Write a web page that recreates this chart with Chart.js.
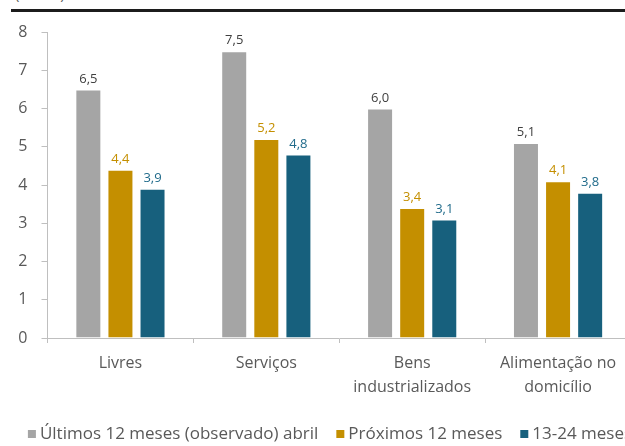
<!DOCTYPE html>
<html>
<head>
<meta charset="utf-8">
<script src="https://cdn.jsdelivr.net/npm/chart.js@4/dist/chart.umd.min.js"></script>
<style>
    body { margin: 0; overflow: hidden; background: #fff; font-family: "Open Sans", sans-serif; }
    #wrap { position: relative; width: 660px; height: 446px; }
    #unit { position: absolute; left: 15px; top: -17px; font-size: 15px; color: #595959; }
    #rule { position: absolute; left: 11px; top: 9px; width: 660px; height: 3px; background: #1c1c1c; }
    canvas { position: absolute; left: 0; top: 0; }
</style>
</head>
<body>
<div id="wrap">
    <div id="unit">(% a.a.)</div>
    <div id="rule"></div>
    <canvas id="chart" width="660" height="446"></canvas>
</div>
<script>
// categorias e séries
const categorias = ['Livres', 'Serviços', ['Bens', 'industrializados'], ['Alimentação no', 'domicílio']];
const ultimos12 = [6.5, 7.5, 6.0, 5.1];
const proximos12 = [4.4, 5.2, 3.4, 4.1];
const meses13a24 = [3.9, 4.8, 3.1, 3.8];
const yTicks = [0, 1, 2, 3, 4, 5, 6, 7, 8];

const fonte = '"Open Sans", sans-serif';
const textColor = '#595959';
const axisColor = '#bfbfbf';

// escreve o valor em cima de cada barra
const valueLabels = {
    id: 'valueLabels',
    afterDatasetsDraw(chart) {
        const ctx = chart.ctx;
        ctx.save();
        ctx.font = '13px ' + fonte;
        ctx.textAlign = 'center';
        ctx.textBaseline = 'bottom';
        chart.data.datasets.forEach((ds, i) => {
            const meta = chart.getDatasetMeta(i);
            ctx.fillStyle = ds.labelColor;
            meta.data.forEach((bar, j) => {
                const txt = ds.data[j].toFixed(1).replace('.', ',');
                ctx.fillText(txt, bar.x, bar.y - 4);
            });
        });
        ctx.restore();
    }
};

// legenda numa linha só, centrada embaixo (a nativa quebra em duas)
const oneLineLegend = {
    id: 'oneLineLegend',
    afterDraw(chart) {
        const ctx = chart.ctx;
        const box = 8, gap = 4, spacing = 18, y = 434;
        ctx.save();
        ctx.font = '17px ' + fonte;
        ctx.textBaseline = 'middle';
        const items = chart.data.datasets.map(ds => ({
            text: ds.label,
            color: ds.backgroundColor,
            w: box + gap + ctx.measureText(ds.label).width
        }));
        const total = items.reduce((s, it) => s + it.w, 0) + spacing * (items.length - 1);
        let x = chart.width / 2 - total / 2;
        items.forEach(it => {
            ctx.fillStyle = it.color;
            ctx.fillRect(x, y - box / 2, box, box);
            ctx.fillStyle = textColor;
            ctx.fillText(it.text, x + box + gap, y);
            x += it.w + spacing;
        });
        ctx.restore();
    }
};

new Chart(document.getElementById('chart'), {
    type: 'bar',
    data: {
        labels: categorias,
        datasets: [
            {
                label: 'Últimos 12 meses (observado) abril',
                data: ultimos12,
                backgroundColor: '#a5a5a5',
                borderColor: 'rgba(255,255,255,0.35)',
                borderWidth: 1,
                labelColor: '#404040'
            },
            {
                label: 'Próximos 12 meses',
                data: proximos12,
                backgroundColor: '#c48f00',
                borderColor: 'rgba(255,255,255,0.35)',
                borderWidth: 1,
                labelColor: '#c48f00'
            },
            {
                label: '13-24 meses',
                data: meses13a24,
                backgroundColor: '#17607d',
                borderColor: 'rgba(255,255,255,0.35)',
                borderWidth: 1,
                labelColor: '#1f6a8a'
            }
        ]
    },
    options: {
        responsive: false,
        animation: false,
        categoryPercentage: 0.66,
        barPercentage: 0.81,
        layout: {
            padding: { top: 32, right: 29, bottom: 38, left: 0 }
        },
        plugins: {
            tooltip: { enabled: false },
            legend: { display: false }
        },
        scales: {
            x: {
                offset: true,
                grid: {
                    offset: true,
                    drawOnChartArea: false,
                    tickLength: 5,
                    color: axisColor
                },
                border: { color: axisColor },
                ticks: {
                    color: textColor,
                    padding: 8,
                    maxRotation: 0,
                    font: { size: 16, family: fonte, lineHeight: 1.5 }
                },
                afterFit(scale) { scale.height = 70; }
            },
            y: {
                min: 0,
                max: 8,
                afterBuildTicks(scale) {
                    scale.ticks = yTicks.map(v => ({ value: v }));
                },
                grid: {
                    drawOnChartArea: false,
                    tickLength: 6,
                    color: axisColor
                },
                border: { color: axisColor },
                ticks: {
                    color: textColor,
                    padding: 14,
                    font: { size: 16, family: fonte }
                },
                afterFit(scale) { scale.width = 47.5; }
            }
        }
    },
    plugins: [valueLabels, oneLineLegend]
});
</script>
</body>
</html>
